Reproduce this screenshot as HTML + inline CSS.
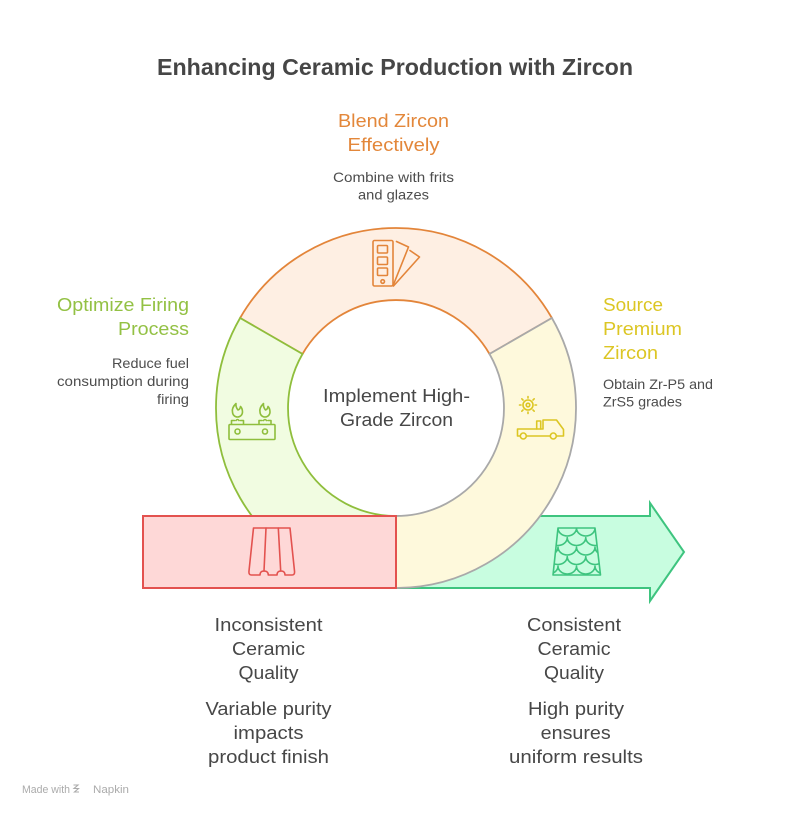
<!DOCTYPE html>
<html>
<head>
<meta charset="utf-8">
<style>
html,body{margin:0;padding:0;background:#fff;}
svg{display:block;}
text{font-family:"Liberation Sans",Arial,sans-serif;}
</style>
</head>
<body>
<svg width="792" height="816" viewBox="0 0 792 816" xmlns="http://www.w3.org/2000/svg">
  <defs>
    <clipPath id="trap">
      <path d="M558 528 H595 L600.5 575 H553 Z"/>
    </clipPath>
  </defs>

  <!-- Title -->
  <text x="395" y="75" text-anchor="middle" font-size="23" font-weight="bold" fill="#464646" textLength="476" lengthAdjust="spacingAndGlyphs">Enhancing Ceramic Production with Zircon</text>

  <!-- Green arrow (behind ring) -->
  <path d="M300 516 H650 V503 L684 552 L650 601 V588 H300 Z" fill="#c8fde0" stroke="#3ec47f" stroke-width="2" stroke-linejoin="miter"/>

  <!-- Ring segments -->
  <!-- top (orange) -->
  <path d="M240.1 318 A180 180 0 0 1 551.9 318 L489.5 354 A108 108 0 0 0 302.5 354 Z" fill="#feefe3" stroke="#e3853a" stroke-width="1.8"/>
  <!-- right (yellow) -->
  <path d="M551.9 318 A180 180 0 0 1 396 588 L396 516 A108 108 0 0 0 489.5 354 Z" fill="#fef9dc" stroke="#a9a9a9" stroke-width="1.8"/>
  <!-- left (green) -->
  <path d="M396 588 A180 180 0 0 1 240.1 318 L302.5 354 A108 108 0 0 0 396 516 Z" fill="#f1fce1" stroke="#8fbe3c" stroke-width="1.8"/>

  <!-- Red rectangle -->
  <rect x="143" y="516" width="253" height="72" fill="#fed8d7" stroke="#e3524f" stroke-width="2"/>

  <!-- Swatch icon (orange) -->
  <g fill="none" stroke="#e3853a" stroke-width="1.6" stroke-linejoin="round" stroke-linecap="round">
    <rect x="373" y="240.5" width="20" height="45.5" rx="1.5"/>
    <rect x="377.5" y="245.5" width="10" height="7.5" rx="1"/>
    <rect x="377.5" y="257" width="10" height="7.5" rx="1"/>
    <rect x="377.5" y="268" width="10" height="7.5" rx="1"/>
    <circle cx="382.7" cy="281.5" r="1.8"/>
    <path d="M396.5 241.5 L408.5 247 L393.5 284.5"/>
    <path d="M410 250.5 L419.5 257 L393.5 286"/>
  </g>

  <!-- Stove icon (green) -->
  <g fill="none" stroke="#8fbe3c" stroke-width="1.6" stroke-linejoin="round" stroke-linecap="round">
    <rect x="229" y="424.5" width="46" height="15" rx="1"/>
    <circle cx="237.5" cy="431.5" r="2.5"/>
    <circle cx="265" cy="431.5" r="2.5"/>
    <path d="M236 403.5 Q231.5 408 232.5 412 A5 5 0 0 0 242.5 412 Q242.5 408.5 240.5 406.5 Q240 409.5 238 410 Q235.5 407 236 403.5 Z"/>
    <path d="M263.5 403.5 Q259 408 260 412 A5 5 0 0 0 270 412 Q270 408.5 268 406.5 Q267.5 409.5 265.5 410 Q263 407 263.5 403.5 Z"/>
    <path d="M231.5 423.5 V420.5 H234.5 M243.5 423.5 V420.5 H240.5 M236 420.5 Q237.5 418.5 239 420.5"/>
    <path d="M259 423.5 V420.5 H262 M271 423.5 V420.5 H268 M263.5 420.5 Q265 418.5 266.5 420.5"/>
  </g>

  <!-- Truck + gear icon (yellow) -->
  <g fill="none" stroke="#dcc624" stroke-width="1.6" stroke-linejoin="round" stroke-linecap="round">
    <circle cx="528" cy="405" r="5"/>
    <circle cx="528" cy="405" r="1.8"/>
    <path d="M528 398 V396.5 M528 412 V413.5 M521 405 H519.5 M535 405 H536.5 M523 400 L521.8 398.8 M533 400 L534.2 398.8 M523 410 L521.8 411.2 M533 410 L534.2 411.2"/>
    <path d="M520.3 436 H517.5 V429 H543 V420 H556.5 L563.5 429.5 V436 H556.3"/>
    <path d="M526.3 436 H550.3"/>
    <path d="M536.7 429 V421 M540.7 429 V421 M536.7 421 H540.7"/>
    <circle cx="523.3" cy="436" r="3"/>
    <circle cx="553.3" cy="436" r="3"/>
  </g>

  <!-- Red tile icon -->
  <g fill="none" stroke="#e3524f" stroke-width="1.6" stroke-linejoin="round" stroke-linecap="round">
    <path d="M253.5 528 H290 L294.5 571 Q295 575 292 575 H285 Q285 571 281 571 Q277 571 277 575 H268.3 Q268.3 571 264 571 Q260 571 260 575 H251.5 Q248.5 575 249 571 Z"/>
    <path d="M266 528 L264 571"/>
    <path d="M278.3 528 L280.7 571"/>
  </g>

  <!-- Green scale-tile icon -->
  <g fill="none" stroke="#3ec47f" stroke-width="1.6" stroke-linejoin="round" stroke-linecap="round">
    <path d="M558 528 H595 L600.5 575 H553 Z"/>
    <g clip-path="url(#trap)">
      <path d="M558 528 A9.25 8 0 0 0 576.5 528 A9.25 8 0 0 0 595 528"/>
      <path d="M548.75 537.5 A9.25 8 0 0 0 567.25 537.5 A9.25 8 0 0 0 585.75 537.5 A9.25 8 0 0 0 604.25 537.5"/>
      <path d="M539.5 547 A9.25 8 0 0 0 558 547 A9.25 8 0 0 0 576.5 547 A9.25 8 0 0 0 595 547 A9.25 8 0 0 0 613.5 547"/>
      <path d="M548.75 556.5 A9.25 8 0 0 0 567.25 556.5 A9.25 8 0 0 0 585.75 556.5 A9.25 8 0 0 0 604.25 556.5"/>
      <path d="M539.5 566 A9.25 8 0 0 0 558 566 A9.25 8 0 0 0 576.5 566 A9.25 8 0 0 0 595 566 A9.25 8 0 0 0 613.5 566"/>
    </g>
  </g>

  <!-- Center text -->
  <g font-size="18" fill="#474747" text-anchor="middle">
    <text x="396.5" y="402" textLength="147" lengthAdjust="spacingAndGlyphs">Implement High-</text>
    <text x="396.5" y="426" textLength="113" lengthAdjust="spacingAndGlyphs">Grade Zircon</text>
  </g>

  <!-- Top label (orange) -->
  <g text-anchor="middle">
    <text x="393.5" y="127" font-size="18" fill="#e3873a" textLength="111" lengthAdjust="spacingAndGlyphs">Blend Zircon</text>
    <text x="393.5" y="151" font-size="18" fill="#e3873a" textLength="92" lengthAdjust="spacingAndGlyphs">Effectively</text>
    <text x="393.5" y="182" font-size="14" fill="#4d4d4d" textLength="121" lengthAdjust="spacingAndGlyphs">Combine with frits</text>
    <text x="393.5" y="199.5" font-size="14" fill="#4d4d4d" textLength="71" lengthAdjust="spacingAndGlyphs">and glazes</text>
  </g>

  <!-- Left label (green) -->
  <g text-anchor="end">
    <text x="189" y="311" font-size="18" fill="#93c144" textLength="132" lengthAdjust="spacingAndGlyphs">Optimize Firing</text>
    <text x="189" y="335" font-size="18" fill="#93c144" textLength="71" lengthAdjust="spacingAndGlyphs">Process</text>
    <text x="189" y="368" font-size="14" fill="#4d4d4d" textLength="77" lengthAdjust="spacingAndGlyphs">Reduce fuel</text>
    <text x="189" y="386" font-size="14" fill="#4d4d4d" textLength="132" lengthAdjust="spacingAndGlyphs">consumption during</text>
    <text x="189" y="404" font-size="14" fill="#4d4d4d" textLength="32" lengthAdjust="spacingAndGlyphs">firing</text>
  </g>

  <!-- Right label (yellow) -->
  <g text-anchor="start">
    <text x="603" y="311" font-size="18" fill="#dcc624" textLength="60" lengthAdjust="spacingAndGlyphs">Source</text>
    <text x="603" y="335" font-size="18" fill="#dcc624" textLength="79" lengthAdjust="spacingAndGlyphs">Premium</text>
    <text x="603" y="359" font-size="18" fill="#dcc624" textLength="55" lengthAdjust="spacingAndGlyphs">Zircon</text>
    <text x="603" y="389" font-size="14" fill="#4d4d4d" textLength="110" lengthAdjust="spacingAndGlyphs">Obtain Zr-P5 and</text>
    <text x="603" y="406.5" font-size="14" fill="#4d4d4d" textLength="79" lengthAdjust="spacingAndGlyphs">ZrS5 grades</text>
  </g>

  <!-- Bottom left text -->
  <g font-size="18" fill="#474747" text-anchor="middle">
    <text x="268.5" y="631" textLength="108" lengthAdjust="spacingAndGlyphs">Inconsistent</text>
    <text x="268.5" y="655" textLength="73" lengthAdjust="spacingAndGlyphs">Ceramic</text>
    <text x="268.5" y="679" textLength="60" lengthAdjust="spacingAndGlyphs">Quality</text>
    <text x="268.5" y="715" textLength="126" lengthAdjust="spacingAndGlyphs">Variable purity</text>
    <text x="268.5" y="739" textLength="70" lengthAdjust="spacingAndGlyphs">impacts</text>
    <text x="268.5" y="763" textLength="121" lengthAdjust="spacingAndGlyphs">product finish</text>
  </g>

  <!-- Bottom right text -->
  <g font-size="18" fill="#474747" text-anchor="middle">
    <text x="574" y="631" textLength="94" lengthAdjust="spacingAndGlyphs">Consistent</text>
    <text x="574" y="655" textLength="73" lengthAdjust="spacingAndGlyphs">Ceramic</text>
    <text x="574" y="679" textLength="60" lengthAdjust="spacingAndGlyphs">Quality</text>
    <text x="576" y="715" textLength="96" lengthAdjust="spacingAndGlyphs">High purity</text>
    <text x="575.7" y="739" textLength="70" lengthAdjust="spacingAndGlyphs">ensures</text>
    <text x="576" y="763" textLength="134" lengthAdjust="spacingAndGlyphs">uniform results</text>
  </g>

  <!-- Footer -->
  <g fill="#ababab" font-size="11">
    <text x="22" y="793" textLength="48" lengthAdjust="spacingAndGlyphs">Made with</text>
    <path d="M73.5 785 H78 L74 788.5 H78.5 L74.5 792 H79" fill="none" stroke="#ababab" stroke-width="1.1"/>
    <text x="93" y="793" textLength="36" lengthAdjust="spacingAndGlyphs">Napkin</text>
  </g>
</svg>
</body>
</html>
